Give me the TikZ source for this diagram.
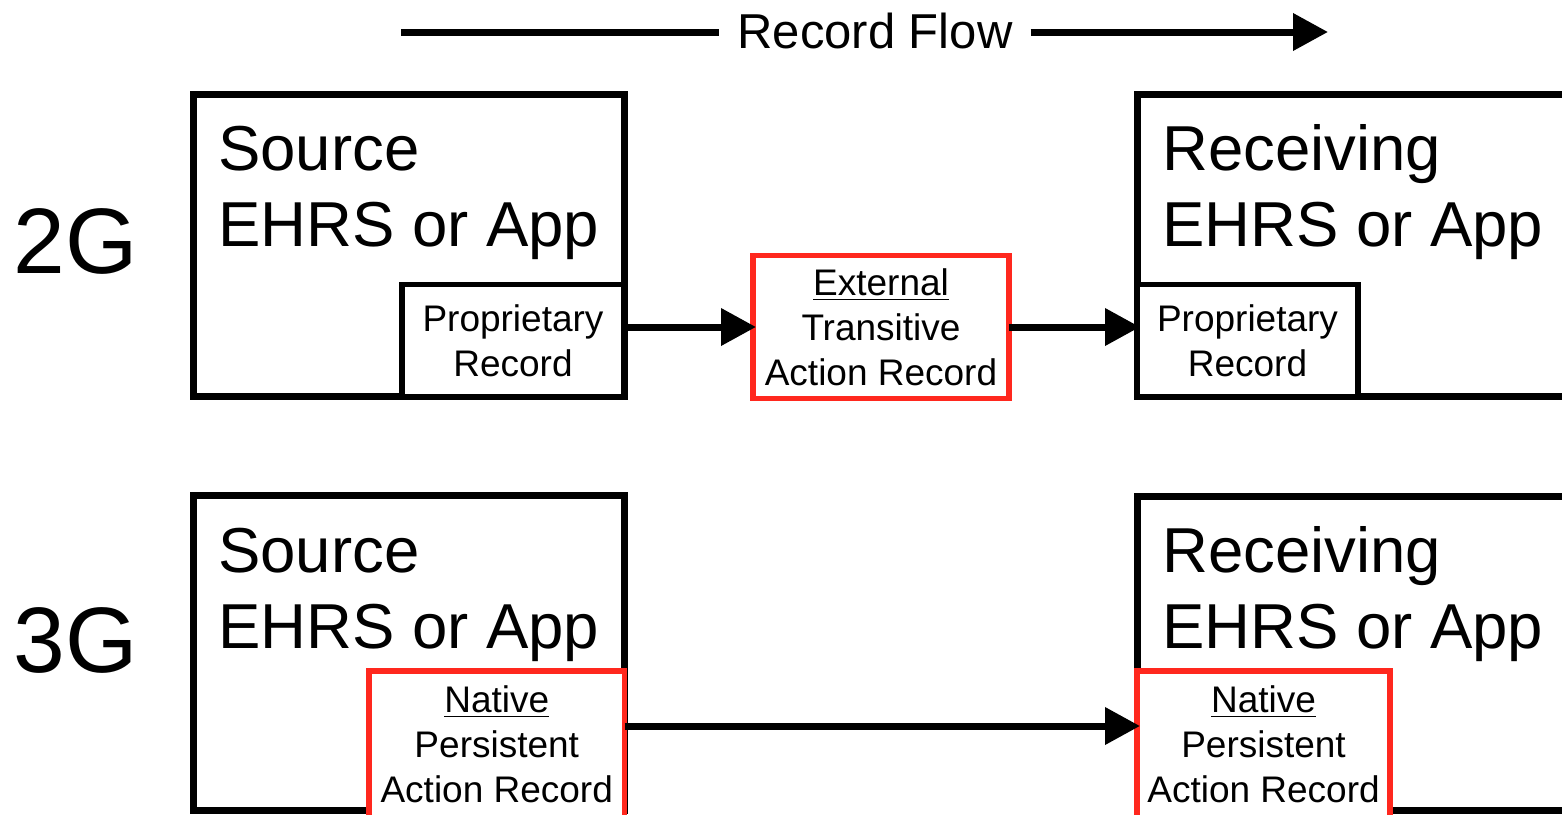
\documentclass[tikz,border=0pt]{standalone}
\usepackage{amsmath}
\usepackage{fontspec}
\setmainfont{Liberation Sans}
\usetikzlibrary{arrows.meta,positioning}
\definecolor{flowred}{RGB}{255,40,30}

\begin{document}
\begin{tikzpicture}[x=1pt, y=-1pt,
  sysbox/.style={draw, line width=7pt, anchor=north west, inner sep=0pt, outer sep=0pt},
  recbox/.style={draw, line width=5.5pt, fill=white, anchor=north west, align=center,
    inner sep=0pt, outer sep=0pt, font=\fontsize{37}{45}\selectfont},
  actbox/.style={recbox, draw=flowred},
  systext/.style={anchor=base west, align=left, inner sep=0pt, font=\fontsize{63.5}{76}\selectfont},
  genlbl/.style={inner sep=0pt, font=\fontsize{93}{100}\selectfont},
  flow/.style={line width=7pt, -{Triangle[length=35pt,width=36pt]}, shorten >=-3pt}]
  \clip (0,0) rectangle (1562,814);

  % record flow
  \coordinate (flowL) at (401,32);
  \coordinate (flowR) at (1328,32);
  \node [inner xsep=18pt, inner ysep=0pt, font=\fontsize{49}{55}\selectfont] (flowlbl) at (875,31) {Record Flow};
  \draw [line width=7pt] (flowL) -- (flowL -| flowlbl.west);
  \draw [flow, shorten >=0pt] (flowlbl.east |- flowR) -- (flowR);

  % 2G
  \node [genlbl] (gen2) at (76,241) {2G};
  \node [sysbox, minimum width=430.5pt, minimum height=302.5pt] (src2) at (193.5,94) {};
  \node [systext] (src2t) at (218,246) {Source\\EHRS or App};
  \node [recbox, minimum width=222pt, minimum height=112pt] (sp2) at (402,284.5) {Proprietary\\Record};
  \node [actbox, minimum width=256pt, minimum height=143pt] (ext) at (753,255.5) {\underline{External}\\Transitive\\Action Record};
  \node [sysbox, minimum width=483pt, minimum height=302.5pt] (rcv2) at (1137,94) {};
  \node [systext] (rcv2t) at (1162,246) {Receiving\\EHRS or App};
  \node [recbox, minimum width=221pt, minimum height=112pt] (rp2) at (1137,284.5) {Proprietary\\Record};
  \draw [flow] (ext.west -| sp2.east) -- (ext.west);
  \draw [flow] (ext.east) -- (ext.east -| rp2.west);

  % 3G
  \node [genlbl] (gen3) at (76,640) {3G};
  \node [sysbox, minimum width=430.5pt, minimum height=315pt] (src3) at (193.5,495.5) {};
  \node [systext] (src3t) at (218,648) {Source\\EHRS or App};
  \node [actbox, minimum width=255.5pt, minimum height=147pt] (sn3) at (369,671) {\underline{Native}\\Persistent\\Action Record};
  \node [sysbox, minimum width=483pt, minimum height=314.5pt] (rcv3) at (1137,496) {};
  \node [systext] (rcv3t) at (1162,648) {Receiving\\EHRS or App};
  \node [actbox, minimum width=253pt, minimum height=147pt] (rn3) at (1137,671) {\underline{Native}\\Persistent\\Action Record};
  \draw [flow] ([yshift=-55pt]sn3.north east) -- ([yshift=-55pt]rn3.north west);
\end{tikzpicture}
\end{document}
